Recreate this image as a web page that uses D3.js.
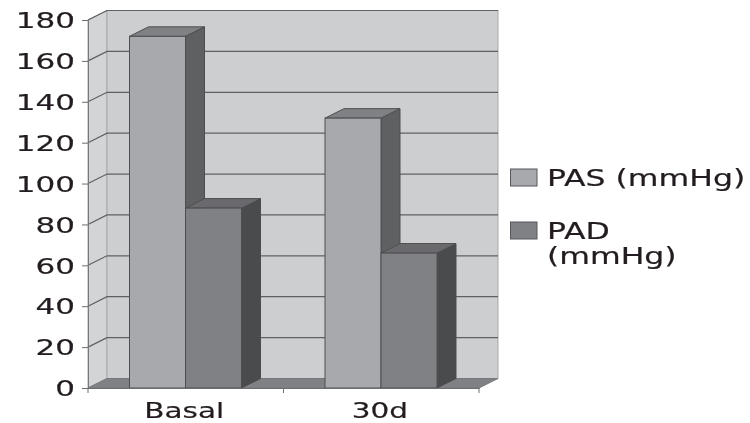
<!DOCTYPE html>
<html>
<head>
<meta charset="utf-8">
<script src="https://cdn.jsdelivr.net/npm/d3@7"></script>
<style>
    html, body { margin: 0; padding: 0; background: #fff; }
    svg { display: block; }
    text { font-family: "DejaVu Sans", Verdana, sans-serif; fill: #231f20; stroke: #231f20; stroke-width: 0.2px; }
</style>
</head>
<body>
<div id="chart"></div>
<script>
const categories = ['Basal', '30d'];
const seriesNames = ['PAS (mmHg)', 'PAD (mmHg)'];
const pas = [172, 132];
const pad = [88, 66];
const yTicks = [0, 20, 40, 60, 80, 100, 120, 140, 160, 180];

const width = 750, height = 423;
const depthX = 19, depthY = 9.5;   // 3d offset of the back wall

const x = d3.scaleBand().domain(categories).range([88, 479]);
const y = d3.scaleLinear().domain([0, 180]).range([388, 20]);
const barW = 56;

const svg = d3.select('#chart').append('svg')
    .attr('width', width)
    .attr('height', height);

// slight softness, the reference is a scan
svg.append('defs').append('filter')
    .attr('id', 'soft')
    .append('feGaussianBlur')
    .attr('stdDeviation', 0.55);

const root = svg.append('g').attr('filter', 'url(#soft)');

const pts = a => a.map(p => p.join(',')).join(' ');
const x0 = x.range()[0], x1 = x.range()[1];
const yB = y(0), yT = y(180);

// paredes
root.append('polygon')
    .attr('points', pts([[x0, yB], [x0 + depthX, yB - depthY], [x0 + depthX, yT - depthY], [x0, yT]]))
    .attr('fill', '#d3d4d6').attr('stroke', '#a5a6a8');
root.append('rect')
    .attr('x', x0 + depthX).attr('y', yT - depthY)
    .attr('width', x1 - x0).attr('height', yB - yT)
    .attr('fill', '#cdced0').attr('stroke', '#a8a9ab');
root.append('polygon')
    .attr('points', pts([[x0, yB], [x1, yB], [x1 + depthX, yB - depthY], [x0 + depthX, yB - depthY]]))
    .attr('fill', '#808184').attr('stroke', '#77787b');

// linhas de grade
root.append('g').selectAll('polyline')
    .data(yTicks.filter(d => d > 0))
    .enter().append('polyline')
    .attr('points', d => pts([[x0, y(d)], [x0 + depthX, y(d) - depthY], [x1 + depthX, y(d) - depthY]]))
    .attr('fill', 'none')
    .attr('stroke', '#5f6062')
    .attr('stroke-width', 1.2);

// barras
const offsets = [41.5, 97.5];
const colors = [
    { front: '#a8a9ad', top: '#808184', side: '#5f6062' },
    { front: '#808184', top: '#6a6b6e', side: '#4a4b4d' }
];
const bars = [];
categories.forEach((c, i) => {
    bars.push({ cat: c, s: 0, value: pas[i] });
    bars.push({ cat: c, s: 1, value: pad[i] });
});

const bar = root.append('g').selectAll('g')
    .data(bars)
    .enter().append('g')
    .attr('stroke', '#4d4e50')
    .attr('stroke-width', 1);

bar.append('polygon')
    .attr('points', d => {
        const l = x(d.cat) + offsets[d.s] + barW, t = y(d.value);
        return pts([[l, yB], [l + depthX, yB - depthY], [l + depthX, t - depthY], [l, t]]);
    })
    .attr('fill', d => colors[d.s].side);
bar.append('polygon')
    .attr('points', d => {
        const l = x(d.cat) + offsets[d.s], t = y(d.value);
        return pts([[l, t], [l + barW, t], [l + barW + depthX, t - depthY], [l + depthX, t - depthY]]);
    })
    .attr('fill', d => colors[d.s].top);
bar.append('rect')
    .attr('x', d => x(d.cat) + offsets[d.s])
    .attr('y', d => y(d.value))
    .attr('width', barW)
    .attr('height', d => yB - y(d.value))
    .attr('fill', d => colors[d.s].front);

// eixo y
const yAxis = root.append('g')
    .attr('transform', `translate(${x0},0)`)
    .call(d3.axisLeft(y).tickValues(yTicks).tickSize(6).tickPadding(0));
yAxis.select('.domain').attr('stroke', '#77787b');
yAxis.selectAll('.tick line').attr('stroke', '#6d6e71');
yAxis.selectAll('.tick text')
    .attr('x', 0).attr('dy', null).attr('y', 0)
    .attr('text-anchor', 'end')
    .attr('dominant-baseline', 'central')
    .style('font-size', '22px')
    .attr('transform', 'translate(-13,0) scale(1.41,1)');

// eixo x
const xAxis = root.append('g')
    .attr('transform', `translate(0,${yB})`)
    .call(d3.axisBottom(x).tickSize(0).tickPadding(0));
xAxis.select('.domain').attr('stroke', '#6d6e71');
xAxis.selectAll('.tick text')
    .attr('y', 0).attr('dy', null)
    .attr('text-anchor', 'middle')
    .style('font-size', '22px')
    .attr('transform', 'translate(-1.5,30) scale(1.34,1)');
root.append('g').selectAll('line')
    .data([x0, x0 + x.bandwidth(), x1])
    .enter().append('line')
    .attr('x1', d => d).attr('x2', d => d)
    .attr('y1', yB).attr('y2', yB + 5)
    .attr('stroke', '#6d6e71');

// legenda
const legendRows = [
    { name: seriesNames[0], y: 177.5, lines: ['PAS (mmHg)'] },
    { name: seriesNames[1], y: 230.5, lines: ['PAD', '(mmHg)'] }
];
const legend = root.append('g').selectAll('g')
    .data(legendRows)
    .enter().append('g');
legend.append('rect')
    .attr('x', 510.5)
    .attr('y', d => d.y - 8.5)
    .attr('width', 26.5)
    .attr('height', 17)
    .attr('fill', (d, i) => colors[i].front)
    .attr('stroke', '#58595b');
legend.each(function (d) {
    d3.select(this).selectAll('text')
        .data(d.lines)
        .enter().append('text')
        .attr('transform', (t, j) => `translate(547,${d.y + 8 + j * 25.5}) scale(1.37,1)`)
        .style('font-size', '23px')
        .text(t => t);
});
</script>
</body>
</html>
